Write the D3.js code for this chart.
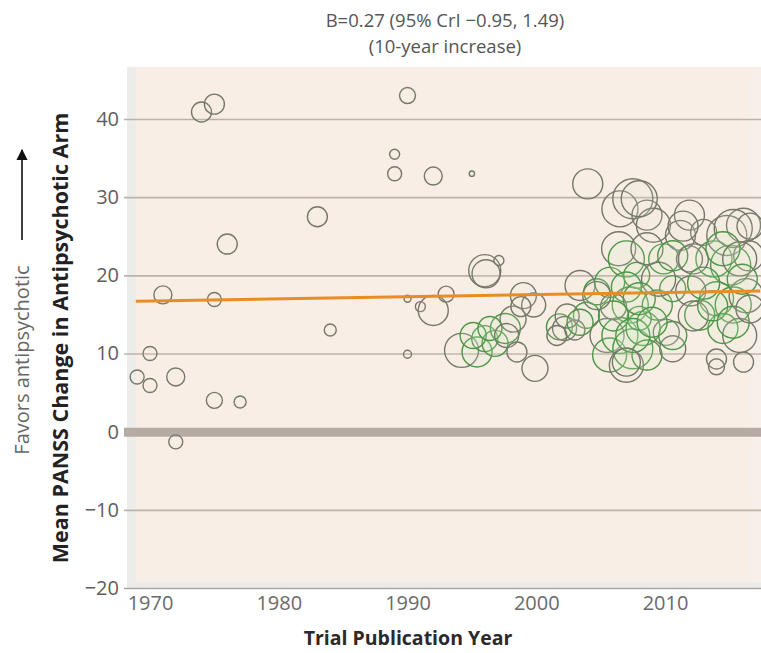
<!DOCTYPE html>
<html>
<head>
<meta charset="utf-8">
<script src="https://cdn.jsdelivr.net/npm/d3@7"></script>
<style>
  html, body { margin: 0; padding: 0; background: #fff; }
  svg { display: block; }
</style>
</head>
<body>
<svg id="chart" width="761" height="653"></svg>
<script>
// ---- data ----
const years = [
  1969.0, 1970.0, 1970.0, 1971.0, 1972.0, 1972.0, 1974.0, 1975.0, 1975.0, 1975.0,
  1976.0, 1977.0, 1983.0, 1984.0, 1989.0, 1989.0, 1990.0, 1990.0, 1990.0, 1991.0,
  1992.0, 1992.0, 1993.0, 1995.0, 1994.2, 1995.4, 1996.0, 1996.1, 1997.1, 1996.0,
  1996.8, 1997.6, 1998.2, 1999.0, 1999.8, 1999.9, 2001.8, 2002.2, 2001.6, 2003.4,
  2003.9, 2004.0, 2004.7, 2005.7, 2005.5, 2005.7, 2006.5, 2007.5, 2008.6, 2009.1,
  2006.4, 2007.0, 2007.8, 2007.3, 2006.5, 2007.5, 2007.0, 2008.3, 2008.6, 2009.4,
  2009.9, 2010.1, 2010.6, 2011.2, 2011.9, 2013.0, 2013.8, 2014.8, 2016.1, 2015.1,
  2014.0, 2015.3, 2016.3, 2014.5, 2015.8, 2014.0, 2014.0, 2016.1, 2012.7, 2011.9,
  2010.6, 2007.0, 2008.0, 2012.0, 2016.5, 2006.0, 2009.5, 2003.0, 1998.8, 2008.0,
  2011.4, 2015.3, 2016.6, 2008.6, 2010.6, 2012.2, 2014.5, 2015.8, 2006.0, 2007.5,
  2007.0, 2010.6, 2012.2, 2013.7, 2015.3, 2016.6, 1995.1, 1996.4, 1997.7, 1998.5,
  2002.4, 2003.4, 2004.7, 2008.0, 2009.0, 2013.0, 2016.0
];
const values = [
  7.0, 10.0, 5.9, 17.5, 7.0, -1.3, 40.9, 41.9, 16.9, 4.0,
  24.0, 3.8, 27.5, 13.0, 35.5, 33.0, 43.0, 17.0, 9.9, 16.0,
  32.7, 15.5, 17.6, 33.0, 10.4, 10.2, 20.6, 20.2, 21.9, 11.9,
  11.3, 13.2, 14.4, 17.4, 16.2, 8.1, 13.4, 13.2, 12.3, 18.7,
  14.9, 31.7, 17.9, 19.1, 12.3, 9.8, 28.5, 29.8, 27.7, 26.4,
  23.4, 22.1, 20.0, 16.2, 12.3, 10.6, 8.5, 13.2, 9.8, 16.2,
  22.1, 12.7, 18.3, 25.1, 27.7, 25.5, 22.1, 25.1, 26.4, 21.3,
  17.0, 16.2, 17.4, 13.2, 12.3, 9.3, 8.3, 8.9, 14.9, 22.1,
  10.6, 18.5, 14.5, 18.0, 22.5, 16.0, 19.5, 13.0, 16.0, 29.8,
  26.3, 26.0, 26.3, 23.4, 22.5, 22.1, 23.4, 22.1, 14.8, 12.3,
  8.9, 12.3, 14.8, 16.1, 14.0, 15.7, 12.3, 13.2, 12.3, 10.2,
  14.8, 14.0, 17.4, 17.0, 14.0, 19.0, 19.5
];
// relative trial size (drives circle area)
const sizes = [
  49, 49, 49, 81, 81, 49, 100, 100, 49, 64,
  100, 36, 100, 36, 25, 49, 64, 12, 16, 25,
  81, 225, 64, 7, 289, 225, 256, 196, 25, 169,
  169, 225, 169, 169, 144, 169, 169, 144, 100, 225,
  169, 225, 169, 225, 289, 289, 324, 400, 225, 289,
  289, 324, 169, 324, 324, 400, 289, 289, 225, 225,
  225, 169, 169, 225, 225, 169, 324, 400, 289, 400,
  289, 324, 289, 225, 289, 100, 64, 100, 225, 169,
  169, 225, 144, 225, 225, 169, 289, 100, 100, 324,
  225, 361, 169, 256, 225, 225, 289, 289, 225, 289,
  196, 196, 225, 225, 256, 196, 169, 144, 144, 100,
  144, 169, 196, 256, 225, 256, 225
];
// 1 = green-outlined trials, 0 = grey-outlined trials
const green = [
  0, 0, 0, 0, 0, 0, 0, 0, 0, 0,
  0, 0, 0, 0, 0, 0, 0, 0, 0, 0,
  0, 0, 0, 0, 0, 1, 0, 0, 0, 1,
  1, 1, 0, 0, 0, 0, 1, 0, 0, 0,
  1, 0, 1, 1, 0, 1, 0, 0, 0, 0,
  0, 1, 1, 1, 1, 1, 0, 1, 1, 1,
  1, 0, 1, 0, 0, 0, 1, 0, 0, 1,
  1, 1, 0, 1, 0, 0, 0, 0, 1, 0,
  0, 1, 1, 0, 0, 0, 0, 0, 0, 0,
  0, 0, 0, 0, 1, 0, 1, 0, 1, 1,
  0, 1, 0, 1, 1, 0, 1, 1, 0, 0,
  0, 1, 0, 1, 1, 1, 1
];
const yTicks = [-20, -10, 0, 10, 20, 30, 40];
const xTicks = [1970, 1980, 1990, 2000, 2010];
const fitYears = [1968.9, 2017.4];
const fitValues = [16.7, 18.0];
const titleLines = ["B=0.27 (95% CrI \u22120.95, 1.49)", "(10-year increase)"];
const xTitle = "Trial Publication Year";
const yTitle = "Mean PANSS Change in Antipsychotic Arm";
const yNote = "Favors antipsychotic";

// ---- drawing ----
const svg = d3.select("#chart");
const font = "'Open Sans', 'Noto Sans', sans-serif";

const x = d3.scaleLinear().domain([1970, 2010]).range([150, 665]);
const y = d3.scaleLinear().domain([-20, 40]).range([588, 119]);
const r = d3.scaleSqrt().domain([0, 400]).range([0, 20]);

const panelLeft = 136, panelTop = 67, panelRight = 761, panelBottom = 582;

svg.append("rect").attr("width", 761).attr("height", 653).attr("fill", "#fff");

// frame strips
svg.append("rect").attr("x", 127).attr("y", panelTop).attr("width", panelLeft - 127)
  .attr("height", 588 - panelTop).attr("fill", "#ececeb");
svg.append("rect").attr("x", 127).attr("y", panelBottom).attr("width", 761 - 127)
  .attr("height", 588 - panelBottom).attr("fill", "#ecebea");
// panel
svg.append("rect").attr("x", panelLeft).attr("y", panelTop)
  .attr("width", 750 - panelLeft).attr("height", panelBottom - panelTop).attr("fill", "#f9eee5");
svg.append("rect").attr("x", 750).attr("y", panelTop)
  .attr("width", panelRight - 750).attr("height", panelBottom - panelTop).attr("fill", "#f7f0ea");

// y axis with gridlines
const yAxis = svg.append("g").attr("transform", "translate(124,0)")
  .call(d3.axisLeft(y).tickValues(yTicks).tickSize(-(761 - 124)).tickPadding(5)
    .tickFormat(d => d < 0 ? "\u2212" + Math.abs(d) : d));
yAxis.select(".domain").remove();
yAxis.selectAll(".tick line")
  .attr("stroke", "#bcb2aa").attr("stroke-width", 1.6);
yAxis.selectAll(".tick").filter(d => d === 0).select("line")
  .attr("stroke", "#b6aba4").attr("stroke-width", 9);
yAxis.selectAll(".tick").filter(d => d === -20).select("line")
  .attr("stroke", "#aaa6a2").attr("stroke-width", 1.6);
yAxis.selectAll(".tick text")
  .attr("font-family", font).attr("font-size", 20).attr("fill", "#5e5e5e");

// x axis
const xAxis = svg.append("g").attr("transform", "translate(0,588)")
  .call(d3.axisBottom(x).tickValues(xTicks).tickSize(0).tickPadding(8).tickFormat(d3.format("d")));
xAxis.select(".domain").remove();
xAxis.selectAll(".tick text")
  .attr("font-family", font).attr("font-size", 20).attr("fill", "#6a6a6a");

// circles
const idx = d3.range(years.length);
svg.append("g").selectAll("circle").data(idx).join("circle")
  .attr("cx", i => x(years[i]))
  .attr("cy", i => y(values[i]))
  .attr("r", i => r(sizes[i]))
  .attr("fill", i => green[i] ? "rgba(214,236,196,0.16)" : "rgba(232,238,220,0.10)")
  .attr("stroke", i => green[i] ? "#4c9646" : "#76786a")
  .attr("stroke-width", 1.4);

// fitted line
svg.append("line")
  .attr("x1", x(fitYears[0])).attr("y1", y(fitValues[0]))
  .attr("x2", x(fitYears[1])).attr("y2", y(fitValues[1]))
  .attr("stroke", "#ea8c25").attr("stroke-width", 3);

// titles
svg.append("g").selectAll("text").data(titleLines).join("text")
  .attr("x", 445).attr("y", (d, i) => 27 + i * 26)
  .attr("text-anchor", "middle")
  .attr("font-family", font).attr("font-size", 18.5).attr("fill", "#555")
  .text(d => d);

svg.append("text")
  .attr("x", 408).attr("y", 645)
  .attr("text-anchor", "middle")
  .attr("font-family", font).attr("font-size", 19.5).attr("font-weight", "bold").attr("fill", "#2a2a2a")
  .text(xTitle);

svg.append("text")
  .attr("transform", "translate(68,338) rotate(-90)")
  .attr("text-anchor", "middle")
  .attr("font-family", font).attr("font-size", 21.5).attr("font-weight", "bold").attr("fill", "#222")
  .text(yTitle);

svg.append("text")
  .attr("transform", "translate(29,360) rotate(-90)")
  .attr("text-anchor", "middle")
  .attr("font-family", font).attr("font-size", 20).attr("fill", "#666")
  .text(yNote);

// arrow
const defs = svg.append("defs");
defs.append("marker").attr("id", "arr").attr("viewBox", "0 0 10 10")
  .attr("refX", 9).attr("refY", 5).attr("markerWidth", 7).attr("markerHeight", 7)
  .attr("orient", "auto")
  .append("path").attr("d", "M0,0 L10,5 L0,10 Z").attr("fill", "#111");
svg.append("line")
  .attr("x1", 22).attr("y1", 240).attr("x2", 22).attr("y2", 150)
  .attr("stroke", "#111").attr("stroke-width", 1.6).attr("marker-end", "url(#arr)");
</script>
</body>
</html>
